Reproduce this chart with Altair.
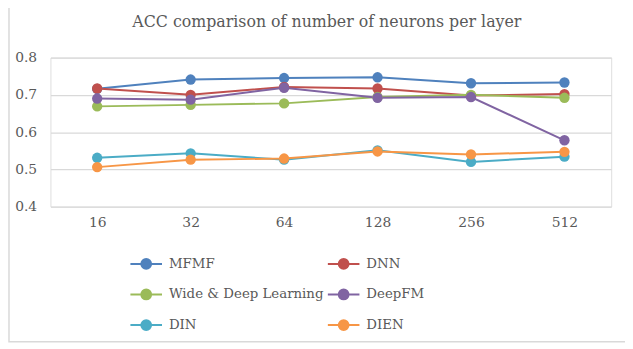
import altair as alt
import pandas as pd

neurons = ["16", "32", "64", "128", "256", "512"]
series_names = ["MFMF", "DNN", "Wide & Deep Learning", "DeepFM", "DIN", "DIEN"]
mfmf = [0.716, 0.741, 0.745, 0.747, 0.731, 0.733]
dnn = [0.717, 0.700, 0.721, 0.717, 0.698, 0.702]
wide_deep = [0.669, 0.673, 0.677, 0.694, 0.700, 0.692]
deepfm = [0.690, 0.687, 0.719, 0.692, 0.694, 0.578]
din = [0.531, 0.543, 0.526, 0.551, 0.520, 0.534]
dien = [0.506, 0.526, 0.529, 0.548, 0.540, 0.547]
colors = ["#4F81BD", "#C0504D", "#9BBB59", "#8064A2", "#4BACC6", "#F79646"]
title_text = "ACC comparison of number of neurons per layer"

all_vals = [mfmf, dnn, wide_deep, deepfm, din, dien]
rows = []
for name, vals in zip(series_names, all_vals):
    for n, v in zip(neurons, vals):
        rows.append({"neurons": n, "acc": v, "model": name})
df = pd.DataFrame(rows)

FONT = "DejaVu Serif"
TXT = "#595959"

legend_symbol = ("M-2,0L2,0M0.62,0A0.62,0.62,0,1,1,-0.62,0"
                 "A0.62,0.62,0,1,1,0.62,0Z")

color = alt.Color(
    "model:N",
    scale=alt.Scale(domain=series_names, range=colors),
    legend=alt.Legend(
        title=None, orient="none", legendX=88, legendY=200, columns=2,
        direction="horizontal",
        symbolType=legend_symbol, symbolSize=256, symbolStrokeWidth=2,
        labelOffset=14, rowPadding=13, columnPadding=0, padding=0,
        labelFont=FONT, labelFontSize=13.5, labelColor=TXT, labelLimit=400,
    ),
)

x = alt.X("neurons:N", sort=neurons, title=None,
          scale=alt.Scale(paddingInner=1, paddingOuter=0.5),
          axis=alt.Axis(labelAngle=0, ticks=False, domain=False, grid=False,
                        labelPadding=9, labelFont=FONT, labelFontSize=14,
                        labelColor=TXT))
y = alt.Y("acc:Q", title=None,
          scale=alt.Scale(domain=[0.4, 0.8], nice=False, zero=False),
          axis=alt.Axis(values=[0.4, 0.5, 0.6, 0.7, 0.8], format=".1f",
                        ticks=False, domain=False, gridColor="#D9D9D9",
                        gridWidth=1.3, labelPadding=14, labelFont=FONT,
                        labelFontSize=14, labelColor=TXT))

base = alt.Chart(df)
lines = base.mark_line(strokeWidth=2).encode(x=x, y=y, color=color, detail="model:N")
points = base.mark_circle(size=110, opacity=1).encode(x=x, y=y, color=color)

frame = alt.Chart(pd.DataFrame({"a": [0]})).mark_rect(
    fill=None, stroke="#D9D9D9", strokeWidth=1.5
).encode(x=alt.value(-42), x2=alt.value(640), y=alt.value(-70), y2=alt.value(288))

title = alt.Chart(pd.DataFrame({"t": [title_text]})).mark_text(
    font=FONT, fontSize=16, color=TXT, align="center", baseline="middle"
).encode(text="t:N", x=alt.value(280), y=alt.value(-36))

chart = alt.layer(frame, title, lines, points).properties(
    width=568, height=151,
    autosize=alt.AutoSizeParams(type="none"),
    padding={"left": 43, "top": 48, "right": 14, "bottom": 139},
).configure_view(stroke=None).configure(background="white")

chart.save("out.html", embed_options={"renderer": "svg", "actions": False})
